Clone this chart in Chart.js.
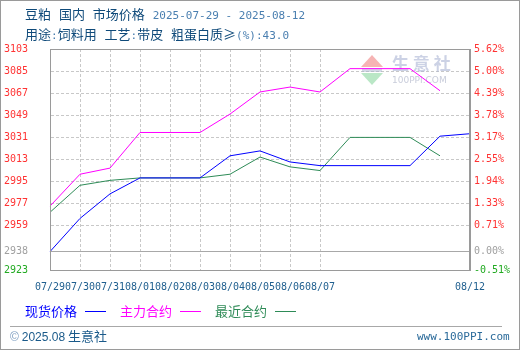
<!DOCTYPE html>
<html>
<head>
<meta charset="utf-8">
<script src="https://cdn.jsdelivr.net/npm/chart.js@4.4.1/dist/chart.umd.min.js"></script>
<style>
  html, body { margin: 0; padding: 0; background: #fff; }
  #wrap { position: relative; width: 520px; height: 350px; overflow: hidden; }
  #chart { position: absolute; left: 0; top: 0; }
  #frame { position: absolute; left: 0; top: 0; width: 520px; height: 350px; box-sizing: border-box; border: 1px solid #9a9a9a; pointer-events: none; }
  .txt { position: absolute; white-space: pre; font-family: "Noto Sans CJK SC", sans-serif; font-size: 13px; line-height: 15px; color: #0f4a7a; word-spacing: 5px; }
  .mono { font-family: "DejaVu Sans Mono", monospace; font-size: 11px; color: #4a7fb0; word-spacing: 0; }
  #legend { position: absolute; left: 25px; top: 303px; height: 16px; }
  .item { position: absolute; top: 0; font-family: "Noto Sans CJK SC", sans-serif; font-size: 13px; line-height: 15px; white-space: pre; }
  .swatch { position: absolute; top: 8px; width: 21px; height: 1px; }
  #rule { position: absolute; left: 10px; top: 326px; width: 492px; height: 1px; background: #a8a8a8; }
  .foot { position: absolute; white-space: pre; font-family: "Noto Sans CJK SC", sans-serif; font-size: 13px; line-height: 15px; color: #1a5a8a; }
</style>
</head>
<body>
<div id="wrap">
  <canvas id="chart" width="520" height="350"></canvas>
  <div class="txt" style="left:25px; top:6px;">豆粕 国内 市场价格 <span class="mono">2025-07-29 - 2025-08-12</span></div>
  <div class="txt" style="left:25px; top:26px;">用途<span class="mono">:</span>饲料用 工艺<span class="mono">:</span>带皮 粗蛋白质≥<span class="mono">(%):43.0</span></div>
  <div id="legend"></div>
  <div id="rule"></div>
  <div class="foot" style="left:10px; top:328px;"><span style="font-family:'Liberation Sans',sans-serif;font-size:12px;color:#7a9cc0;">©</span> <span style="font-family:'Liberation Sans',sans-serif;font-size:12px;">2025.08</span> 生意社</div>
  <div class="foot" style="left:417px; top:329px; font-family:'DejaVu Sans Mono',monospace; font-size:11px; color:#2a6a9a;">www.100PPI.com</div>
  <div id="frame"></div>
</div>
<script>
// 日期
const dates = ['07/29', '07/30', '07/31', '08/01', '08/02', '08/03', '08/04', '08/05',
               '08/06', '08/07', '08/08', '08/09', '08/10', '08/11', '08/12'];
// 横轴显示的日期
const tickDates = ['07/29', '07/30', '07/31', '08/01', '08/02', '08/03', '08/04',
                   '08/05', '08/06', '08/07', '08/12'];

// 现货价格
const spotPrice = [2938, 2965, 2985, 2998, 2998, 2998, 3016, 3020, 3011, 3008, 3008, 3008, 3008, 3032, 3034];
// 主力合约
const mainContract = [2975, 3001, 3006, 3035, 3035, 3035, 3050, 3068, 3072, 3068, 3087, 3087, 3087, 3069, null];
// 最近合约
const nearContract = [2970, 2992, 2996, 2998, 2998, 2998, 3001, 3015, 3007, 3004, 3031, 3031, 3031, 3016, null];

// 纵轴刻度, 以首日现货价为涨跌基准
const yTicks = [2923, 2938, 2959, 2977, 2995, 3013, 3031, 3049, 3067, 3085, 3103];
const basePrice = 2938;

const seriesNames = ['现货价格', '主力合约', '最近合约'];
const seriesColors = ['#0000ff', '#ff00ff', '#2e8b57'];
const seriesData = [spotPrice, mainContract, nearContract];

// 图例
const legend = document.getElementById('legend');
const legendX = [0, 95, 190];
seriesNames.forEach(function (name, i) {
    const t = document.createElement('div');
    t.className = 'item';
    t.style.left = legendX[i] + 'px';
    t.style.color = seriesColors[i];
    t.textContent = name;
    legend.appendChild(t);
    const s = document.createElement('div');
    s.className = 'swatch';
    s.style.left = (legendX[i] + 60) + 'px';
    s.style.background = seriesColors[i];
    legend.appendChild(s);
});

function tickColor(v) {
    if (v === yTicks[0]) return '#22aa22';
    if (v === basePrice) return '#a0a0a0';
    return '#ff3333';
}

// 边框和水印
const framePlugin = {
    id: 'frame',
    beforeDatasetsDraw(chart) {
        const ctx = chart.ctx;
        ctx.save();
        // 水印
        const wx = 361, wy = 55;
        ctx.fillStyle = 'rgba(240, 130, 130, 0.6)';
        ctx.beginPath();
        ctx.moveTo(wx + 11, wy); ctx.lineTo(wx + 22, wy + 12); ctx.lineTo(wx, wy + 12);
        ctx.closePath(); ctx.fill();
        ctx.fillStyle = 'rgba(140, 215, 160, 0.6)';
        ctx.beginPath();
        ctx.moveTo(wx, wy + 18); ctx.lineTo(wx + 22, wy + 18); ctx.lineTo(wx + 11, wy + 30);
        ctx.closePath(); ctx.fill();
        ctx.fillStyle = 'rgba(170, 180, 205, 0.5)';
        ctx.fillRect(wx + 1, wy + 13, 20, 4);
        ctx.font = 'bold 17px "Noto Sans CJK SC"';
        ctx.fillStyle = 'rgba(170, 180, 212, 0.6)';
        ctx.textBaseline = 'top';
        ctx.fillText('生 意 社', wx + 31, wy);
        ctx.font = '9px "DejaVu Sans"';
        ctx.fillStyle = 'rgba(170, 176, 198, 0.65)';
        ctx.fillText('100PPI.COM', wx + 31, wy + 21);
        ctx.restore();
    },
    afterDraw(chart) {
        const ctx = chart.ctx;
        const a = chart.chartArea;
        ctx.save();
        ctx.strokeStyle = '#9a9a9a';
        ctx.lineWidth = 1;
        ctx.strokeRect(a.left + 0.5, a.top + 0.5, a.right - a.left - 1, a.bottom - a.top);
        ctx.restore();
    }
};

new Chart(document.getElementById('chart'), {
    type: 'line',
    data: {
        labels: dates,
        datasets: seriesData.map(function (d, i) {
            return {
                label: seriesNames[i],
                data: d,
                borderColor: seriesColors[i],
                backgroundColor: seriesColors[i],
                borderWidth: 1,
                pointRadius: 0,
                tension: 0,
                spanGaps: false
            };
        })
    },
    options: {
        responsive: false,
        animation: false,
        layout: { padding: { top: 49, left: 0, right: 0, bottom: 0 } },
        plugins: {
            legend: { display: false },
            tooltip: { enabled: false }
        },
        scales: {
            x: {
                offset: false,
                afterFit(scale) { scale.height = 80; },
                grid: {
                    drawTicks: false,
                    color(ctx) {
                        const i = ctx.index;
                        return (i > 0 && i < 10) ? '#c8c8c8' : 'rgba(0,0,0,0)';
                    }
                },
                border: { color: '#9a9a9a', dash: [3, 2] },
                ticks: {
                    autoSkip: false,
                    maxRotation: 0,
                    padding: 11,
                    color: '#1f5f8f',
                    font: { family: 'DejaVu Sans Mono', size: 10 },
                    callback(v, i) {
                        const d = dates[i];
                        return tickDates.includes(d) ? d : '';
                    }
                }
            },
            y: {
                position: 'left',
                min: yTicks[0],
                max: yTicks[yTicks.length - 1],
                afterBuildTicks(scale) { scale.ticks = yTicks.map(v => ({ value: v })); },
                afterFit(scale) { scale.width = 50; },
                grid: {
                    drawTicks: false,
                    color(ctx) {
                        return ctx.tick && ctx.tick.value === basePrice ? '#a8a8a8' : '#c8c8c8';
                    }
                },
                border: {
                    color: '#9a9a9a',
                    dash(ctx) {
                        return ctx.tick && ctx.tick.value === basePrice ? [] : [3, 2];
                    }
                },
                ticks: {
                    padding: 22,
                    font: { family: 'DejaVu Sans Mono', size: 10 },
                    color(ctx) { return tickColor(ctx.tick.value); },
                    callback(v) { return String(v); }
                }
            },
            y2: {
                position: 'right',
                min: yTicks[0],
                max: yTicks[yTicks.length - 1],
                afterBuildTicks(scale) { scale.ticks = yTicks.map(v => ({ value: v })); },
                afterFit(scale) { scale.width = 50; },
                grid: { display: false, drawTicks: false },
                border: { color: '#9a9a9a' },
                ticks: {
                    padding: 4,
                    font: { family: 'DejaVu Sans Mono', size: 10 },
                    color(ctx) { return tickColor(ctx.tick.value); },
                    callback(v) { return ((v - basePrice) / basePrice * 100).toFixed(2) + '%'; }
                }
            }
        }
    },
    plugins: [framePlugin]
});
</script>
</body>
</html>
